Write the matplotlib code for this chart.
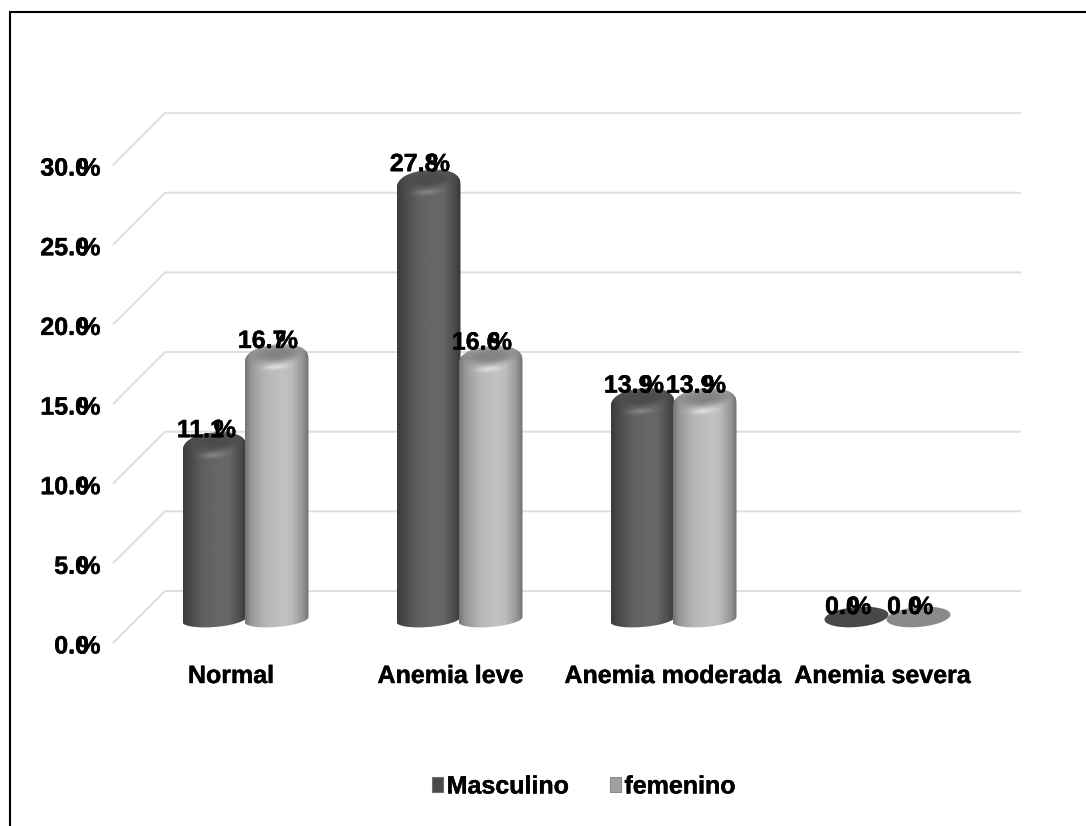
import numpy as np
import matplotlib
matplotlib.use("Agg")
import matplotlib.pyplot as plt
import matplotlib.patheffects as pe
from matplotlib.patches import Polygon, Patch
from matplotlib.lines import Line2D

categories = ["Normal", "Anemia leve", "Anemia moderada", "Anemia severa"]
masculino = [11.1, 27.8, 13.9, 0.0]
femenino = [16.7, 16.6, 13.9, 0.0]
series_names = ["Masculino", "femenino"]
y_ticks = [0, 5, 10, 15, 20, 25, 30]

W, H = 1086, 826
FS = 18.0
HEAVY = [pe.withStroke(linewidth=0.3, foreground="black")]
FONT = dict(family="Liberation Sans", fontweight="bold", color="black", fontsize=FS,
            path_effects=HEAVY)
plt.rcParams["text.hinting"] = "no_hinting"
plt.rcParams["text.hinting_factor"] = 1

# Canvas scales: one category = 214 px, one percentage point = 15.93 px
CAT_PX, VAL_PX = 214.0, 15.93
X0_PX, Y0_PX = 245.5, 643.0


def x_at(px):
    return (px - X0_PX) / CAT_PX


def y_at(py):
    return (Y0_PX - py) / VAL_PX


fig = plt.figure(figsize=(W / 100, H / 100), dpi=100, facecolor="white")
ax = fig.add_axes([0, 0, 1, 1])
ax.set_xlim(x_at(0), x_at(W))
ax.set_ylim(y_at(H), y_at(0))
ax.axis("off")

# Chart frame: only the top and left edges fall inside the canvas
ax.add_line(Line2D([x_at(9.5), x_at(9.5), x_at(W)], [y_at(H), y_at(12), y_at(12)],
                   color="black", lw=1.5, solid_joinstyle="miter", zorder=1))

# Gridlines run along the floor edge and across the back wall
DEPTH_Y = 52 / VAL_PX
for t in y_ticks:
    ax.plot([x_at(113), x_at(165), x_at(1021)], [t, t + DEPTH_Y, t + DEPTH_Y],
            color="#dedede", lw=1.4, zorder=1, solid_capstyle="butt")
    ax.text(x_at(89), t - 10.5 / VAL_PX, f"{t:.1f}", ha="right", va="baseline", zorder=6, **FONT)
    ax.text(x_at(100.5), t - 10.5 / VAL_PX, "%", ha="right", va="baseline", zorder=6, **FONT)

# Cylinder geometry
HALF_W = 32 / CAT_PX
RY = 10 / VAL_PX
TILT = 0.25
BASE_Y = y_at(617)
BAR_SCALE = 15.72 / VAL_PX
OFFSETS = (-31 / CAT_PX, 31 / CAT_PX)
BODY_STOPS = [-1, -0.8, -0.35, 0.2, 0.45, 0.8, 1]
BODY = {
    0: [0x3c, 0x48, 0x60, 0x68, 0x66, 0x4c, 0x38],
    1: [0x74, 0x98, 0xb6, 0xc2, 0xbc, 0x98, 0x70],
}
FACE = {0: 0x4c, 1: 0x84}
GLOW = {0: 0x84, 1: 0xdc}
FLAT = {0: "#484848", 1: "#8a8a8a"}


def cap_curve(u):
    return -0.65 + 1.65 * (1 - np.abs(u) ** 2.3) ** (1 / 2.3)


def draw_cylinder(cx, value, series, z):
    top = BASE_Y + value * BAR_SCALE
    if value == 0:
        t = np.linspace(0, 2 * np.pi, 90)
        u = np.cos(t)
        outline = np.c_[cx + HALF_W * u, BASE_Y + RY * (np.sin(t) + TILT * u)]
        ax.add_patch(Polygon(outline, closed=True, fc=FLAT[series], ec="none", zorder=z))
        return
    # Pixel-resolution shading: horizontal body ramp, darker top face, front glow
    xs = np.linspace(-1, 1, 130)
    ys = np.linspace(BASE_Y - 1.5 * RY, top + 1.5 * RY, max(int((top - BASE_Y + 3 * RY) * VAL_PX), 8))
    U, Y = np.meshgrid(xs, ys)
    V = (Y - top) / RY - TILT * U
    shade = np.interp(U, BODY_STOPS, BODY[series]).astype(float)
    face = np.exp(-(((U / 0.8) ** 2 + ((V - 0.1) / 0.85) ** 2) ** 2))
    shade = shade * (1 - face) + FACE[series] * face
    glow = np.exp(-((U + 0.05) / 0.36) ** 2 - ((V + 1.25) / 0.26) ** 2)
    shade = shade * (1 - glow) + GLOW[series] * glow
    shade = np.clip(shade, 0, 255) / 255
    img = ax.imshow(shade, cmap="gray", vmin=0, vmax=1, origin="lower", aspect="auto",
                    extent=(cx - HALF_W, cx + HALF_W, ys[0], ys[-1]),
                    interpolation="bilinear", zorder=z)
    # Outline: tilted ellipse arc underneath, rounded cap above
    u = np.linspace(-1, 1, 121)
    upper = np.c_[cx + HALF_W * u, top + RY * (cap_curve(u) + TILT * u)]
    lower = np.c_[cx + HALF_W * u, BASE_Y + RY * (-0.25 - 0.75 * np.sqrt(1 - u ** 2) + TILT * u)]
    clip = Polygon(np.r_[lower, upper[::-1]], closed=True, transform=ax.transData,
                   fc="none", ec="none")
    ax.add_patch(clip)
    img.set_clip_path(clip)


for i in range(len(categories)):
    for s, values in enumerate((masculino, femenino)):
        cx = i + OFFSETS[s]
        draw_cylinder(cx, values[i], s, 3 + s + 0.01 * i)
        # Value label: figure and percent sign overlap slightly, centred over the bar
        number = f"{values[i]:.1f}"
        ly = values[i] + y_at(614)
        nudge = (4 - len(number)) * 6.7
        ax.text(cx + (10 - nudge) / CAT_PX, ly, number, ha="right",
                va="baseline", zorder=7, **FONT)
        ax.text(cx + (21.5 - nudge) / CAT_PX, ly, "%", ha="right",
                va="baseline", zorder=7, **FONT)

# Category labels sit at their own spots below the floor
label_px = [231, 450.5, 672.8, 882.5]
for name, px in zip(categories, label_px):
    ax.text(x_at(px), y_at(683), name, ha="center", va="baseline", zorder=6, **FONT)

handles = [Patch(facecolor="#484848", edgecolor="#6e6e6e", lw=0.8),
           Patch(facecolor="#a0a0a0", edgecolor="#8a8a8a", lw=0.8)]
legend = ax.legend(handles, series_names, loc="center", bbox_to_anchor=(584 / W, 1 - 787 / H), ncol=2,
                   frameon=False, prop=dict(family="Liberation Sans", weight="bold", size=FS),
                   handlelength=0.42, handleheight=0.5, handletextpad=0.15, columnspacing=1.65,
                   borderpad=0, borderaxespad=0)
for label in legend.get_texts():
    label.set_path_effects(HEAVY)

fig.savefig("out.png", dpi=100)
